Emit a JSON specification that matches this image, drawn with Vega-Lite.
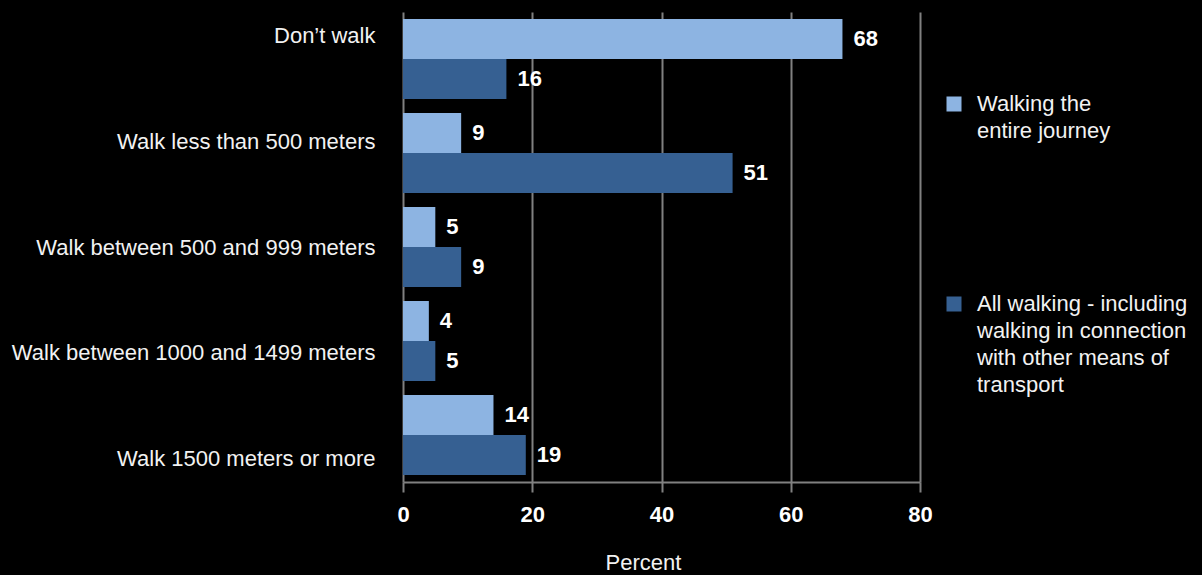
{
  "$schema": "https://vega.github.io/schema/vega-lite/v6.json",
  "autosize": {"type": "none"},
  "padding": {"left": 403, "top": 12, "right": 282, "bottom": 93},
  "width": 517,
  "height": 470,
  "background": "black",
  "config": {
    "view": {"stroke": null},
    "font": "Liberation Sans",
    "style": {"guide-label": {"lineHeight": 27}}
  },
  "data": {
    "values": [
      {"category": "Don’t walk", "series": "Walking the entire journey", "percent": 68},
      {"category": "Don’t walk", "series": "All walking - including walking in connection with other means of transport", "percent": 16},
      {"category": "Walk less than 500 meters", "series": "Walking the entire journey", "percent": 9},
      {"category": "Walk less than 500 meters", "series": "All walking - including walking in connection with other means of transport", "percent": 51},
      {"category": "Walk between 500 and 999 meters", "series": "Walking the entire journey", "percent": 5},
      {"category": "Walk between 500 and 999 meters", "series": "All walking - including walking in connection with other means of transport", "percent": 9},
      {"category": "Walk between 1000 and 1499 meters", "series": "Walking the entire journey", "percent": 4},
      {"category": "Walk between 1000 and 1499 meters", "series": "All walking - including walking in connection with other means of transport", "percent": 5},
      {"category": "Walk 1500 meters or more", "series": "Walking the entire journey", "percent": 14},
      {"category": "Walk 1500 meters or more", "series": "All walking - including walking in connection with other means of transport", "percent": 19}
    ]
  },
  "layer": [
    {
      "encoding": {
        "y": {
          "field": "category", "type": "nominal",
          "sort": ["Don’t walk", "Walk less than 500 meters", "Walk between 500 and 999 meters", "Walk between 1000 and 1499 meters", "Walk 1500 meters or more"],
          "scale": {"paddingInner": 0.15, "paddingOuter": 0.075},
          "axis": null
        },
        "yOffset": {
          "field": "series", "type": "nominal",
          "sort": ["Walking the entire journey", "All walking - including walking in connection with other means of transport"],
          "scale": {"paddingInner": 0, "paddingOuter": 0}
        },
        "x": {
          "field": "percent", "type": "quantitative",
          "scale": {"domain": [0, 80], "nice": false},
          "axis": {
            "values": [0, 20, 40, 60, 80],
            "title": "Percent",
            "titleColor": "#f2f2f2",
            "titleFont": "Liberation Sans",
            "titleFontSize": 22,
            "titleFontWeight": "normal",
            "titleX": 240,
            "titlePadding": 27,
            "labelColor": "white",
            "labelFont": "Liberation Sans",
            "labelFontSize": 22,
            "labelFontWeight": "bold",
            "labelPadding": 12,
            "labelFlush": false,
            "tickColor": "#808080",
            "tickSize": 10,
            "tickWidth": 2,
            "domainColor": "#808080",
            "domainWidth": 2,
            "grid": true,
            "gridColor": "#808080",
            "gridWidth": 2
          }
        }
      },
      "layer": [
        {
          "mark": {"type": "bar", "stroke": null},
          "encoding": {
            "color": {
              "field": "series", "type": "nominal",
              "scale": {
                "domain": ["Walking the entire journey", "All walking - including walking in connection with other means of transport"],
                "range": ["#8db4e2", "#366092"]
              },
              "legend": {
                "title": null,
                "orient": "none",
                "legendX": 540,
                "legendY": 81,
                "symbolType": "square",
                "symbolSize": 225,
                "symbolStrokeWidth": 0,
                "symbolOpacity": 1,
                "labelColor": "#f2f2f2",
                "labelFont": "Liberation Sans",
                "labelFontSize": 22,
                "labelLimit": 300,
                "labelOffset": 12,
                "rowPadding": 151,
                "labelExpr": "datum.label == 'Walking the entire journey' ? ['Walking the', 'entire journey'] : ['All walking -  including', 'walking in connection', 'with other means of', 'transport']"
              }
            }
          }
        },
        {
          "mark": {"type": "text", "align": "left", "baseline": "middle", "dx": 11, "fontSize": 22, "fontWeight": "bold", "font": "Liberation Sans", "color": "white"},
          "encoding": {
            "text": {"field": "percent", "type": "quantitative"}
          }
        }
      ]
    },
    {
      "mark": {"type": "point", "opacity": 0},
      "encoding": {
        "x": {"datum": 0, "type": "quantitative"},
        "y": {
          "field": "category", "type": "nominal",
          "sort": ["Don’t walk", "Walk less than 500 meters", "Walk between 500 and 999 meters", "Walk between 1000 and 1499 meters", "Walk 1500 meters or more"],
          "scale": {"type": "point", "padding": 0.217},
          "axis": {
            "orient": "left",
            "title": null,
            "domain": false,
            "ticks": false,
            "grid": false,
            "labelColor": "#f2f2f2",
            "labelFont": "Liberation Sans",
            "labelFontSize": 22,
            "labelLimit": 400,
            "labelPadding": 28
          }
        }
      }
    }
  ],
  "resolve": {"scale": {"y": "independent"}, "axis": {"y": "independent"}}
}
